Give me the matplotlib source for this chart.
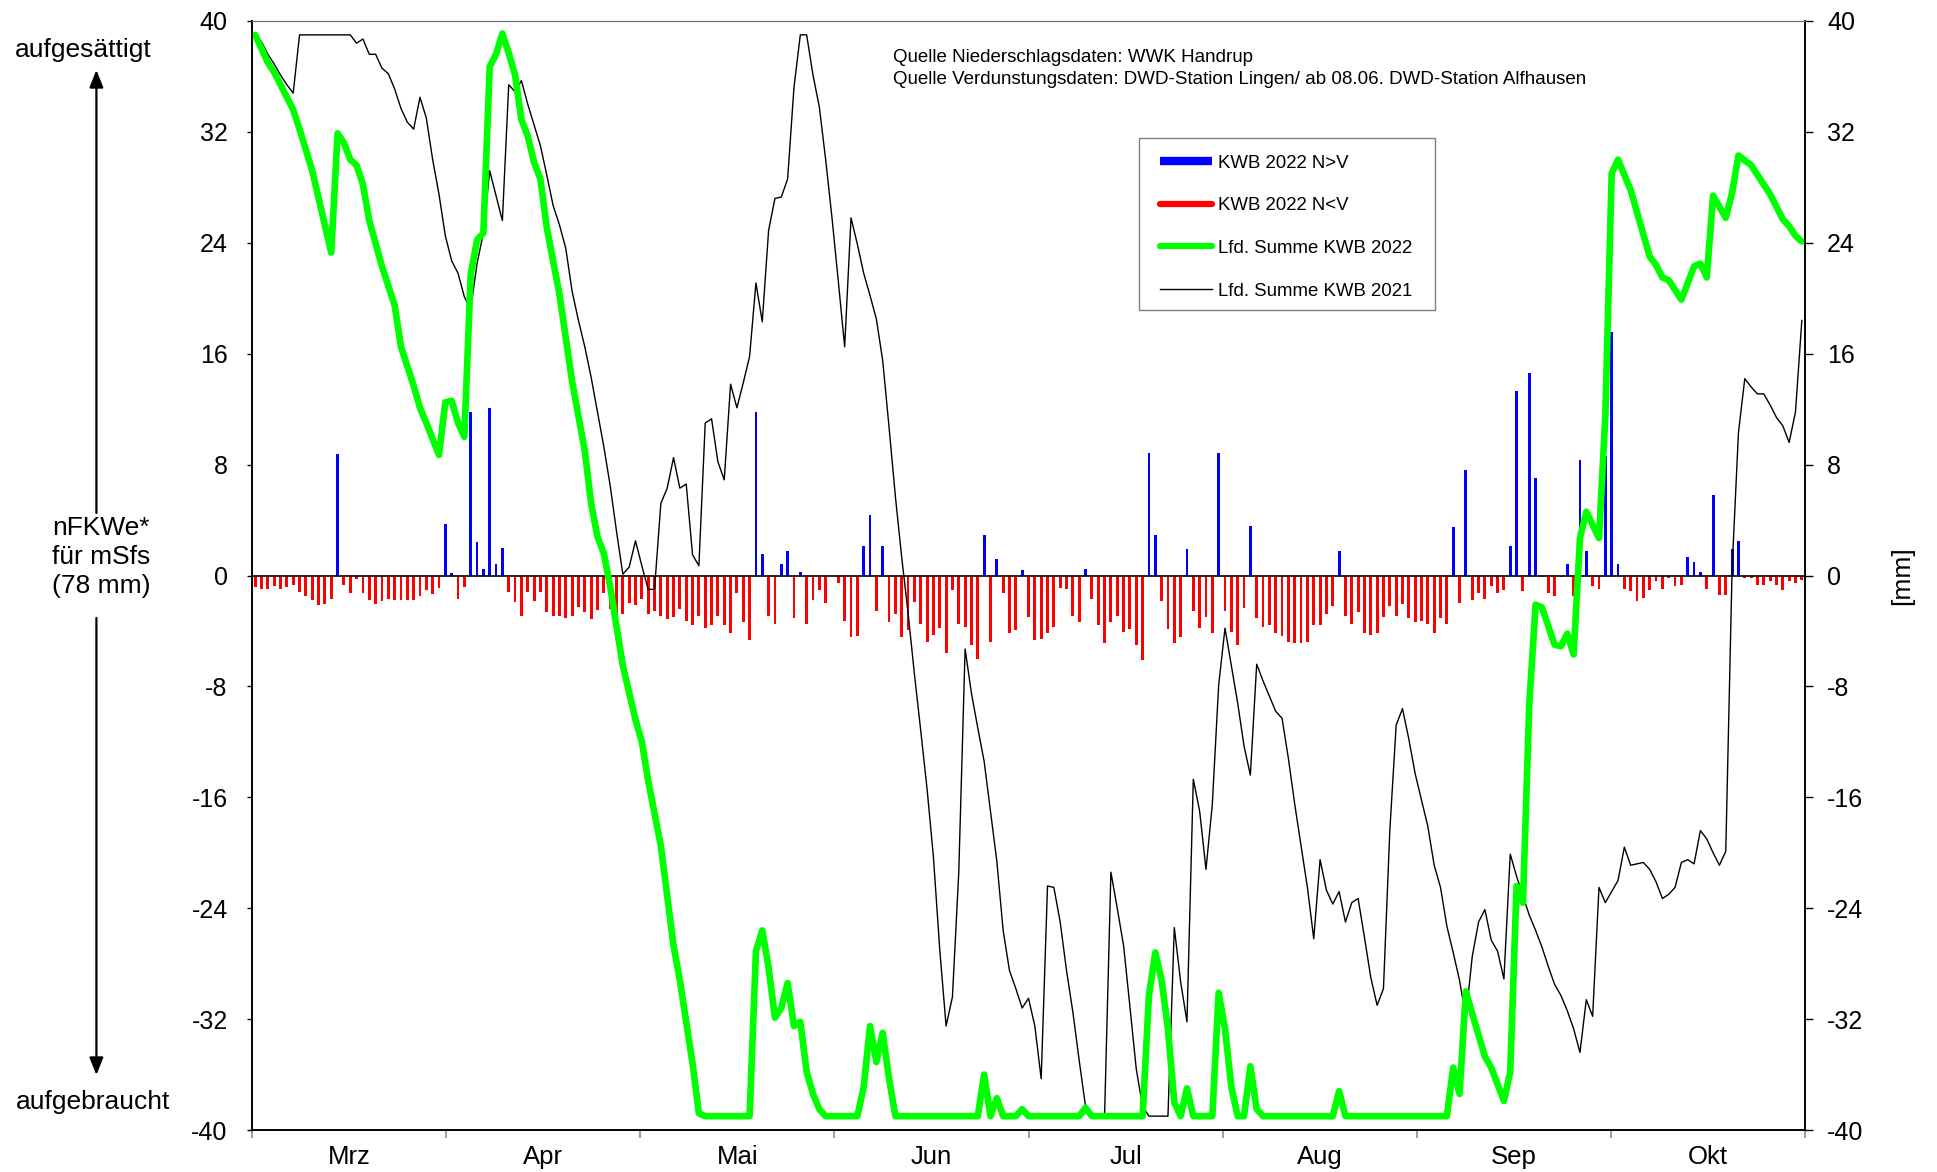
import numpy as np
import matplotlib
matplotlib.use("Agg")
import matplotlib.pyplot as plt
from matplotlib.lines import Line2D
from matplotlib.patches import FancyArrowPatch, Rectangle

plt.rcParams['font.family'] = ['Liberation Sans', 'DejaVu Sans']

# KWB 2022, Tageswerte in mm (positiv: N>V, negativ: N<V), 1. Maerz .. 31. Oktober
kwb_mrz = [-0.83, -0.94, -0.94, -0.77, -0.94, -0.83, -0.66, -1.19, -1.49, -1.79,
           -2.15, -2.07, -1.66, 8.8, -0.66, -1.24, -0.25, -1.24, -1.79, -2.07,
           -1.85, -1.66, -1.77, -1.77, -1.77, -1.77, -1.49, -1.08, -1.35, -0.88, 3.7]
kwb_apr = [0.2, -1.66, -0.83, 11.8, 2.4, 0.5, 12.1, 0.8, 2.0, -1.16,
           -1.93, -2.95, -1.16, -1.85, -1.16, -2.62, -2.9, -2.9, -3.09, -2.95,
           -2.26, -2.62, -3.17, -2.52, -1.25, -2.4, -2.81, -2.81, -2.0, -2.14]
kwb_mai = [-1.68, -2.76, -2.57, -2.93, -3.13, -3.0, -2.45, -3.26, -3.56, -2.9,
           -3.81, -3.56, -2.9, -3.56, -4.17, -1.24, -3.37, -4.66, 11.8, 1.57,
           -2.9, -3.5, 0.8, 1.77, -3.09, 0.25, -3.5, -1.77, -1.08, -1.96, 0.0]
kwb_jun = [-0.55, -3.26, -4.44, -4.39, 2.1, 4.4, -2.54, 2.1, -3.37, -2.76,
           -4.44, -3.94, -1.9, -3.5, -4.77, -4.28, -3.81, -5.57, -1.08, -3.5,
           -3.7, -5.0, -5.99, 2.95, -4.77, 1.19, -1.24, -4.17, -3.94, 0.39]
kwb_jul = [-3.0, -4.66, -4.58, -4.17, -3.7, -0.88, -0.94, -2.9, -3.37, 0.5,
           -1.66, -3.56, -4.86, -3.37, -2.9, -4.08, -3.89, -4.99, -6.07, 8.83,
           2.9, -1.85, -3.89, -4.86, -4.44, 1.9, -2.54, -3.81, -3.0, -4.17, 8.83]
kwb_aug = [-2.54, -4.08, -4.99, -2.37, 3.6, -3.09, -3.7, -3.56, -4.17, -4.39,
           -4.8, -4.86, -4.86, -4.77, -3.56, -3.56, -2.76, -2.18, 1.77, -2.9,
           -3.48, -2.62, -4.17, -4.28, -4.17, -3.0, -2.18, -2.9, -2.07, -3.09, -3.37]
kwb_sep = [-3.28, -3.48, -4.14, -3.09, -3.48, 3.48, -1.99, 7.59, -1.77, -1.24,
           -1.66, -0.77, -1.24, -1.08, 2.1, 13.3, -1.13, 14.6, 7.0, -0.14,
           -1.24, -1.49, -0.14, 0.86, -1.49, 8.36, 1.77, -0.77, -0.94, 8.6]
kwb_okt = [17.6, 0.86, -0.94, -1.13, -1.85, -1.6, -1.08, -0.41, -0.94, -0.19,
           -0.77, -0.66, 1.3, 1.0, 0.28, -0.94, 5.8, -1.43, -1.43, 1.9,
           2.5, -0.19, -0.19, -0.72, -0.66, -0.41, -0.72, -1.02, -0.41, -0.52, -0.36]

# Lfd. Summe KWB 2022 (Tag ab 1. Maerz, Wert)
summe22_tag = [0, 2, 3, 5, 6, 7, 9, 12, 13, 14, 15, 16, 17, 18, 20, 22, 23, 25, 26, 27,
               29, 30, 31, 32, 33, 34, 35, 36, 37, 38, 39, 40, 41, 42, 43, 44, 45, 46, 48, 50,
               51, 52, 53, 54, 55, 56, 58, 60, 61, 62, 64, 66, 67, 69, 70, 71, 78, 79, 80, 81,
               82, 83, 84, 85, 86, 87, 88, 89, 90, 95, 96, 97, 98, 99, 100, 101, 114, 115, 116, 117,
               118, 120, 121, 122, 130, 131, 132, 140, 141, 142, 143, 144, 145, 146, 147, 148, 151, 152, 153, 154,
               155, 156, 157, 158, 159, 170, 171, 172, 188, 189, 190, 191, 192, 194, 195, 197, 198, 199, 200, 201,
               202, 203, 205, 206, 207, 208, 209, 210, 212, 213, 214, 215, 217, 219, 220, 221, 222, 223, 225, 227,
               228, 229, 230, 232, 233, 234, 236, 238, 239, 241, 242, 243, 244]
summe22_wert = [39.0, 37.0, 36.3, 34.5, 33.6, 32.2, 29.2, 23.3, 31.9, 31.2, 30.0, 29.6, 28.2, 25.6, 22.3, 19.5, 16.5, 13.7, 12.1, 11.0,
                8.7, 12.5, 12.6, 11.0, 10.0, 21.7, 24.2, 24.7, 36.7, 37.6, 39.1, 37.7, 36.1, 32.9, 31.7, 29.8, 28.6, 25.1, 20.3, 14.0,
                11.5, 9.0, 5.2, 2.8, 1.6, -0.8, -6.5, -10.4, -12.0, -14.8, -19.5, -26.7, -29.2, -35.2, -38.8, -39.0, -39.0, -27.1, -25.6, -28.3,
                -31.9, -31.2, -29.4, -32.5, -32.2, -35.8, -37.4, -38.5, -39.0, -39.0, -36.9, -32.5, -35.1, -33.0, -36.3, -39.0, -39.0, -36.0, -39.0, -37.7,
                -39.0, -39.0, -38.5, -39.0, -39.0, -38.4, -39.0, -39.0, -30.3, -27.2, -29.2, -32.7, -38.0, -39.0, -37.0, -39.0, -39.0, -30.1, -32.7, -36.9,
                -39.0, -39.0, -35.4, -38.5, -39.0, -39.0, -37.2, -39.0, -39.0, -35.5, -37.4, -30.0, -31.6, -34.7, -35.5, -37.9, -35.8, -22.4, -23.6, -9.3,
                -2.1, -2.3, -5.0, -5.1, -4.2, -5.7, 2.7, 4.6, 2.7, 11.5, 29.0, 30.0, 27.8, 24.6, 23.0, 22.4, 21.5, 21.3, 19.9, 22.3,
                22.5, 21.5, 27.4, 25.8, 27.6, 30.3, 29.6, 28.2, 27.5, 25.7, 25.2, 24.5, 24.1]

# Lfd. Summe KWB 2021 (Tag ab 1. Maerz, Wert)
summe21_tag = [0, 1, 2, 3, 4, 5, 6, 7, 15, 16, 17, 18, 19, 20, 21, 22, 23, 24, 25, 26,
               27, 28, 29, 30, 31, 32, 33, 34, 35, 36, 37, 38, 39, 40, 41, 42, 43, 44, 45, 46,
               47, 48, 49, 50, 51, 52, 53, 54, 55, 56, 57, 58, 59, 60, 61, 62, 63, 64, 65, 66,
               67, 68, 69, 70, 71, 72, 73, 74, 75, 76, 77, 78, 79, 80, 81, 82, 83, 84, 85, 86,
               87, 88, 89, 90, 91, 92, 93, 94, 95, 96, 97, 98, 99, 100, 101, 102, 103, 104, 105, 106,
               107, 108, 109, 110, 111, 112, 113, 114, 115, 116, 117, 118, 119, 120, 121, 122, 123, 124, 125, 126,
               127, 128, 129, 130, 131, 132, 134, 135, 136, 137, 138, 139, 140, 141, 144, 145, 146, 147, 148, 149,
               150, 151, 152, 153, 154, 155, 156, 157, 158, 159, 160, 161, 162, 163, 164, 165, 166, 167, 168, 169,
               170, 171, 172, 173, 174, 175, 176, 177, 178, 179, 180, 181, 182, 183, 184, 185, 186, 187, 188, 189,
               190, 191, 192, 193, 194, 195, 196, 197, 198, 199, 200, 201, 202, 203, 204, 205, 206, 207, 208, 209,
               210, 211, 212, 213, 214, 215, 216, 217, 218, 219, 220, 221, 222, 223, 224, 225, 226, 227, 228, 229,
               230, 231, 232, 233, 234, 235, 236, 237, 238, 239, 240, 241, 242, 243, 244]
summe21_wert = [39.0, 38.5, 37.6, 36.9, 36.1, 35.4, 34.8, 39.0, 39.0, 38.4, 38.7, 37.6, 37.6, 36.6, 36.2, 35.1, 33.7, 32.7, 32.2, 34.5,
                33.0, 30.0, 27.5, 24.5, 22.7, 21.8, 20.1, 19.2, 22.5, 24.7, 29.2, 27.4, 25.6, 35.4, 34.9, 35.7, 34.0, 32.5, 31.0, 28.9,
                26.7, 25.3, 23.6, 20.5, 18.4, 16.5, 14.3, 11.8, 9.3, 6.5, 3.2, 0.1, 0.6, 2.5, 0.7, -1.0, -1.0, 5.2, 6.3, 8.5,
                6.3, 6.6, 1.5, 0.7, 11.0, 11.3, 8.2, 6.9, 13.8, 12.1, 13.9, 15.8, 21.1, 18.3, 24.9, 27.2, 27.3, 28.6, 35.2, 39.0,
                39.0, 36.1, 33.8, 30.0, 25.8, 21.2, 16.5, 25.8, 23.9, 21.8, 20.2, 18.5, 15.5, 10.7, 5.7, 1.3, -2.7, -7.1, -11.2, -15.4,
                -20.3, -27.0, -32.5, -30.4, -21.4, -5.3, -8.5, -11.0, -13.4, -17.0, -20.6, -25.6, -28.5, -29.8, -31.2, -30.5, -32.5, -36.3, -22.4, -22.5,
                -25.0, -28.5, -31.5, -35.0, -38.3, -39.0, -39.0, -21.4, -24.0, -26.7, -31.1, -35.6, -38.3, -39.0, -39.0, -25.4, -29.3, -32.2, -14.7, -17.0,
                -21.2, -16.5, -7.9, -3.8, -6.5, -9.2, -12.3, -14.4, -6.4, -7.6, -8.7, -9.8, -10.3, -13.2, -16.5, -19.5, -22.5, -26.2, -20.5, -22.7,
                -23.7, -22.8, -25.0, -23.6, -23.3, -26.1, -29.0, -31.0, -29.8, -18.4, -10.8, -9.6, -11.8, -14.3, -16.2, -18.1, -20.9, -22.5, -25.3, -27.2,
                -29.2, -31.9, -27.5, -25.0, -24.1, -26.3, -27.1, -29.1, -20.1, -21.7, -23.1, -24.5, -25.6, -26.8, -28.2, -29.5, -30.3, -31.4, -32.7, -34.4,
                -30.6, -31.8, -22.5, -23.6, -22.8, -22.0, -19.6, -20.9, -20.8, -20.7, -21.2, -22.1, -23.3, -23.0, -22.5, -20.7, -20.5, -20.8, -18.4, -19.0,
                -20.0, -20.9, -19.9, 0.5, 10.3, 14.2, 13.6, 13.1, 13.1, 12.3, 11.4, 10.8, 9.6, 11.8, 18.4]

monate = ['Mrz', 'Apr', 'Mai', 'Jun', 'Jul', 'Aug', 'Sep', 'Okt']
y_ticks = [-40, -32, -24, -16, -8, 0, 8, 16, 24, 32, 40]

kwb_2022 = np.array(kwb_mrz + kwb_apr + kwb_mai + kwb_jun + kwb_jul + kwb_aug + kwb_sep + kwb_okt)
tage = np.arange(len(kwb_2022))
n = len(kwb_2022)

W, H = 1937, 1172
fx = lambda x: x / W
fy = lambda y: 1 - y / H

fig = plt.figure(figsize=(W / 100, H / 100), dpi=100)
ax = fig.add_axes([fx(252), fy(1130), 1553 / W, 1109 / H])

pos = np.where(kwb_2022 > 0, kwb_2022, 0)
neg = np.where(kwb_2022 < 0, kwb_2022, 0)
ax.bar(tage, pos, width=0.45, color='#0000ff', zorder=2)
ax.bar(tage, neg, width=0.45, color='#ff0000', zorder=2)
ax.axhline(0, color='black', lw=1.2, zorder=2.5)
ax.plot(summe21_tag, summe21_wert, color='black', lw=1.0, zorder=3)
ax.plot(summe22_tag, summe22_wert, color='#00ff00', lw=4.8, zorder=4,
        solid_joinstyle='round', solid_capstyle='round')

ax.set_xlim(-0.5, n - 0.5)
ax.set_ylim(-40, 40)

# Monatsachse: 8 gleich breite Abschnitte
grenzen = -0.5 + np.arange(9) * n / 8
mitte = grenzen[:-1] + n / 16
ax.set_xticks(grenzen)
ax.set_xticklabels([])
ax.set_xticks(mitte, minor=True)
ax.set_xticklabels(monate, minor=True, fontsize=18.5)
ax.tick_params(axis='x', which='major', length=6, width=1.5, color='#a0a0a0', direction='out')
ax.tick_params(axis='x', which='minor', length=0, pad=11)

ax.set_yticks(y_ticks)
ax.set_yticklabels([str(v) for v in y_ticks], fontsize=18)
ax.tick_params(axis='y', length=3.5, width=1, pad=14, direction='out')

ax2 = ax.twinx()
ax2.set_ylim(-40, 40)
ax2.set_yticks(y_ticks)
ax2.set_yticklabels([str(v) for v in y_ticks], fontsize=18)
ax2.tick_params(axis='y', length=5.5, width=1, pad=10.5, direction='out')

for a in (ax, ax2):
    a.spines['top'].set_color('#707070')
    a.spines['top'].set_linewidth(0.8)
    a.spines['left'].set_linewidth(1.2)
    a.spines['right'].set_linewidth(1.2)
    a.spines['bottom'].set_linewidth(1.2)

# Legende (Rahmen separat)
fig.add_artist(Rectangle((fx(1139), fy(310)), 296 / W, 172 / H, transform=fig.transFigure,
                         facecolor='white', edgecolor='#808080', lw=1.0, zorder=5))
handles = [
    Line2D([0], [0], color='#0000ff', lw=6, solid_capstyle='butt'),
    Line2D([0], [0], color='#ff0000', lw=4.5, solid_capstyle='round'),
    Line2D([0], [0], color='#00ff00', lw=4.5, solid_capstyle='round'),
    Line2D([0], [0], color='black', lw=1.0),
]
labels = ['KWB 2022 N>V', 'KWB 2022 N<V', 'Lfd. Summe KWB 2022', 'Lfd. Summe KWB 2021']
leg = fig.legend(handles, labels, loc='upper left', bbox_to_anchor=(fx(1160), fy(154.5)),
                 bbox_transform=fig.transFigure, borderaxespad=0, fontsize=13.4,
                 frameon=False, handlelength=2.8, handletextpad=0.3,
                 labelspacing=1.38, borderpad=0)
leg.set_zorder(6)

fig.text(fx(893), fy(58), 'Quelle Niederschlagsdaten: WWK Handrup', fontsize=13.5, va='center', ha='left')
fig.text(fx(893), fy(80), 'Quelle Verdunstungsdaten: DWD-Station Lingen/ ab 08.06. DWD-Station Alfhausen',
         fontsize=13.5, va='center', ha='left')

# linke Beschriftung
fig.text(fx(83), fy(49.5), 'aufgesättigt', fontsize=19, ha='center', va='center')
fig.text(fx(93), fy(1101.5), 'aufgebraucht', fontsize=19, ha='center', va='center')
fig.text(fx(101), fy(557), 'nFKWe*\nfür mSfs\n(78 mm)', fontsize=19, ha='center', va='center',
         multialignment='center', linespacing=1.25)
for y0, y1 in [(513, 70), (618, 1075)]:
    fig.add_artist(FancyArrowPatch((fx(96.4), fy(y0)), (fx(96.4), fy(y1)), transform=fig.transFigure,
                                   arrowstyle='-|>,head_length=0.75,head_width=0.3', mutation_scale=14,
                                   lw=1.6, color='black', shrinkA=0, shrinkB=0))

fig.text(fx(1902), fy(576), '[mm]', fontsize=19, rotation=90, ha='center', va='center')

fig.savefig('out.png', dpi=100)
